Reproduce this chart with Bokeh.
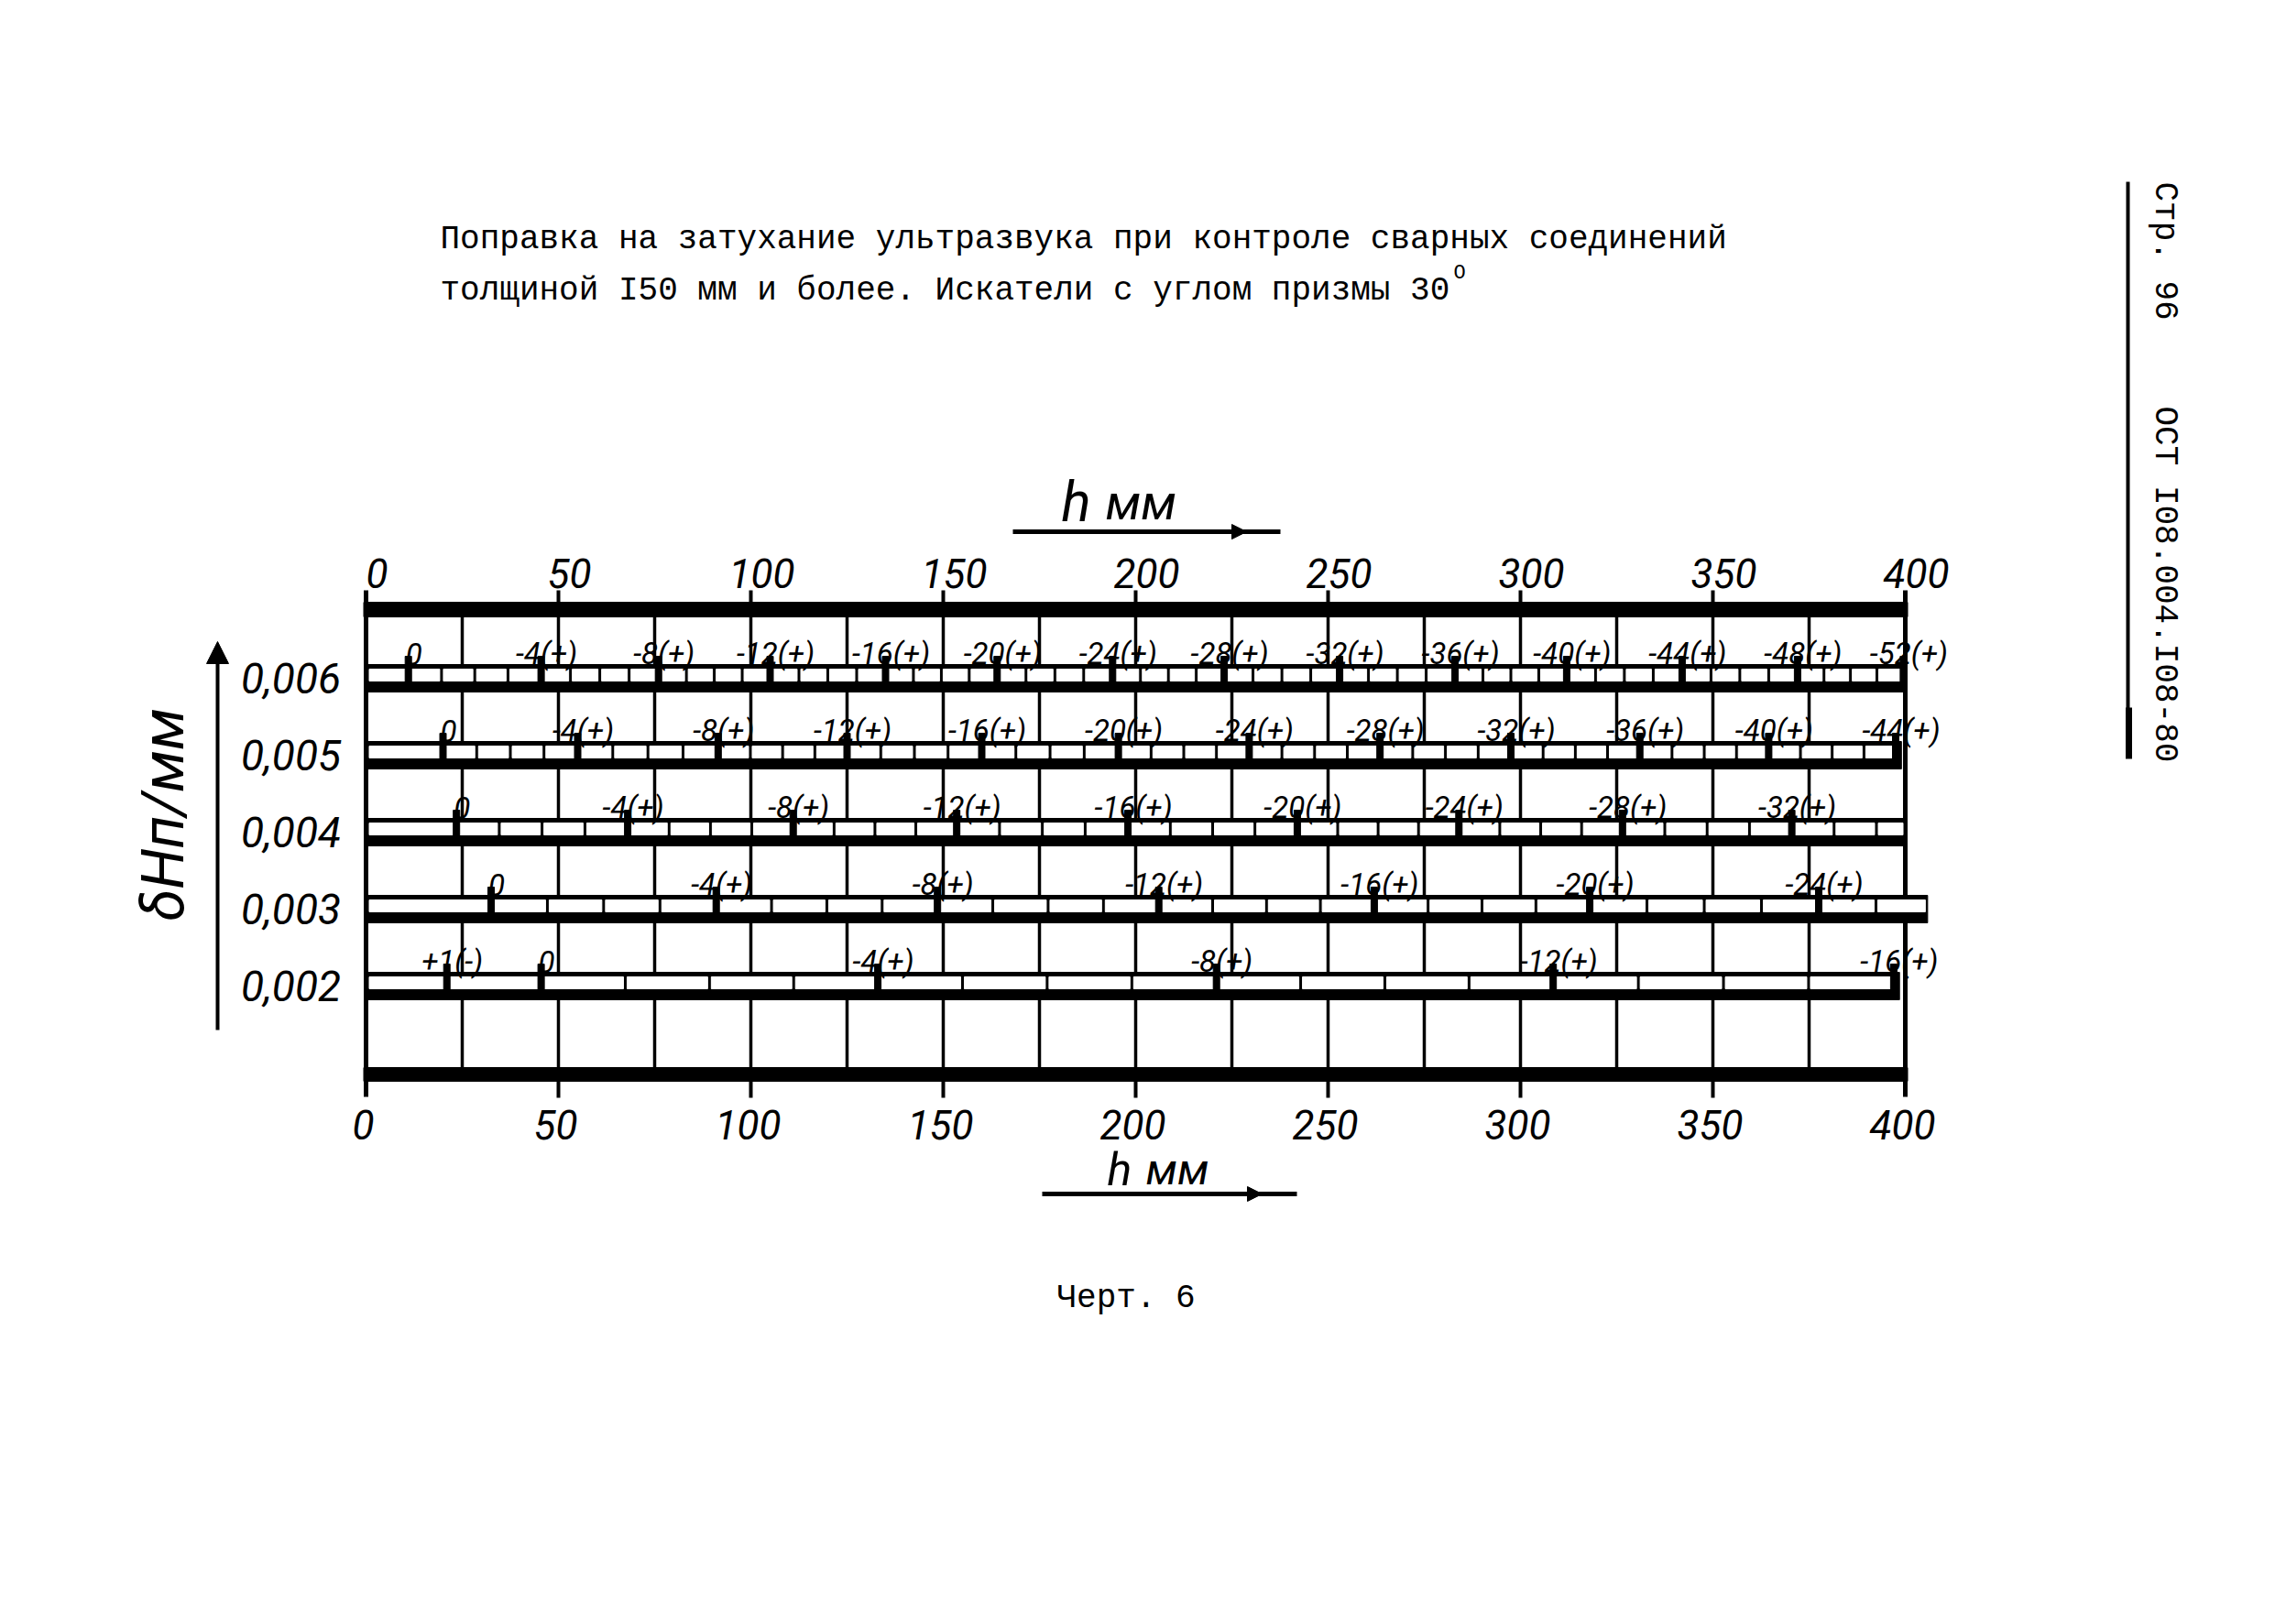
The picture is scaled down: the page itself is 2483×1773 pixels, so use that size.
import math
from bokeh.plotting import figure
from bokeh.models import Range1d, Arrow, NormalHead
from bokeh.embed import file_html
from bokeh.resources import INLINE
from bokeh.core.properties import value

# ---------------- data ----------------
h_ticks = [0, 50, 100, 150, 200, 250, 300, 350, 400]
h_tick_labels = ["0", "50", "100", "150", "200", "250", "300", "350", "400"]
grid_h = [25, 50, 75, 100, 125, 150, 175, 200, 225, 250, 275, 300, 325, 350, 375]

delta_rows = [0.006, 0.005, 0.004, 0.003, 0.002]
delta_labels = ["0,006", "0,005", "0,004", "0,003", "0,002"]

# positions (h, mm) of the correction marks on each row, and their values (dB)
row_006_h = [11, 45.5, 76, 105, 135, 164, 194, 223, 253, 283, 312, 342, 372, 399.5]
row_006_db = [0, -4, -8, -12, -16, -20, -24, -28, -32, -36, -40, -44, -48, -52]
row_005_h = [20, 55, 91.5, 125, 160, 195.5, 229.5, 263.5, 297.5, 331, 364.5, 397.5]
row_005_db = [0, -4, -8, -12, -16, -20, -24, -28, -32, -36, -40, -44]
row_004_h = [23.5, 68, 111, 153.5, 198, 242, 284, 326.5, 370.5]
row_004_db = [0, -4, -8, -12, -16, -20, -24, -28, -32]
row_003_h = [32.5, 91, 148.5, 206, 262, 318, 377.5]
row_003_db = [0, -4, -8, -12, -16, -20, -24]
row_002_h = [21, 45.5, 133, 221, 308.5, 397]
row_002_db = [1, 0, -4, -8, -12, -16]
strip_end_h = [400, 399, 400, 405.8, 398.5]

rows_h = [row_006_h, row_005_h, row_004_h, row_003_h, row_002_h]
rows_db = [row_006_db, row_005_db, row_004_db, row_003_db, row_002_db]

title_1 = "Поправка на затухание ультразвука при контроле сварных соединений"
title_2 = "толщиной I50 мм и более. Искатели с углом призмы 30"
title_sup = "О"
caption = "Черт. 6"
side_1 = "Стр. 96"
side_2 = "ОСТ I08.004.I08-80"
x_title = "h"
x_unit = "мм"
y_title = "δНп/мм"

# ---------------- layout ----------------
W, H = 2467, 1757
X0, PXMM = 407.0, 4.2          # page x of h=0, pixels per mm
YROW, PXD = 748.0, 84000.0     # page y of row 0.006, pixels per unit of delta


def X(px):
    return (px - X0) / PXMM


def Y(py):
    return 0.006 - (py - YROW) / PXD


def dx(px):
    return px / PXMM


def dy(px):
    return px / PXD


x_start = X(8)
y_end = Y(8)
p = figure(width=W, height=H,
           x_range=Range1d(x_start, x_start + W / PXMM),
           y_range=Range1d(y_end - H / PXD, y_end),
           output_backend="svg", toolbar_location=None,
           x_axis_location=None, y_axis_location=None,
           min_border=0)
p.grid.visible = False
p.outline_line_color = None
p.background_fill_color = "white"
p.border_fill_color = "white"

INK = "#000000"
HAND = value("Roboto")
TYPE = value("Liberation Mono")

# thick top / bottom bars
p.quad(left=[-dx(2.5)] * 2, right=[400 + dx(2.5)] * 2,
       top=[Y(665), Y(1173)], bottom=[Y(681), Y(1188)], color=INK)

# frame sides and major ticks
p.segment(x0=[0, 400], y0=[Y(652)] * 2, x1=[0, 400], y1=[Y(1205)] * 2,
          line_width=5, color=INK)
inner = [t for t in h_ticks if 0 < t < 400]
p.segment(x0=inner, y0=[Y(652)] * len(inner), x1=inner, y1=[Y(665)] * len(inner),
          line_width=4, color=INK)
p.segment(x0=inner, y0=[Y(1188)] * len(inner), x1=inner, y1=[Y(1206)] * len(inner),
          line_width=4, color=INK)

# cell grid lines between strips
band_top = [Y(681)] + [c - dy(15) for c in delta_rows]
band_bot = [c + dy(15) for c in delta_rows] + [Y(1173)]
gx0, gy0, gy1 = [], [], []
for t, b in zip(band_top, band_bot):
    for g in grid_h:
        gx0.append(g)
        gy0.append(t)
        gy1.append(b)
p.segment(x0=gx0, y0=gy0, x1=gx0, y1=gy1, line_width=3.5, color=INK)


def divisions(hs, dbs, end):
    divs = []
    for i in range(len(hs) - 1):
        n = abs(dbs[i + 1] - dbs[i])
        for k in range(1, n):
            divs.append(hs[i] + k * (hs[i + 1] - hs[i]) / n)
    n = abs(dbs[-1] - dbs[-2])
    step = (hs[-1] - hs[-2]) / n
    x = hs[-1] + step
    while x < end - 0.5 * step:
        divs.append(x)
        x += step
    return divs


def fmt_db(v):
    if v == 0:
        return "0"
    if v > 0:
        return f"+{v}(-)"
    return f"{v}(+)"


sl, sr, st, sb = [], [], [], []
wl, wr, wt, wb = [], [], [], []
ml, mr, mt, mb = [], [], [], []
lx, ly, lt = [], [], []
for c, hs, dbs, end in zip(delta_rows, rows_h, rows_db, strip_end_h):
    sl.append(0); sr.append(end); st.append(c + dy(15)); sb.append(c - dy(15))
    divs = divisions(hs, dbs, end)
    bounds = [(0.0, dx(3.5))] + [(d, dx(2.0)) for d in divs] + \
             [(h, dx(3.5)) for h in hs] + [(end, dx(2.5))]
    bounds.sort(key=lambda b: b[0])
    for (a, ha), (b, hb) in zip(bounds[:-1], bounds[1:]):
        left, right = a + ha, b - hb
        if right - left > dx(2):
            wl.append(left); wr.append(right); wt.append(c + dy(10)); wb.append(c - dy(3))
    for h, v in zip(hs, dbs):
        ml.append(h - dx(3.5)); mr.append(h + dx(3.5))
        mt.append(c + dy(24)); mb.append(c - dy(4))
        lx.append(h + dx(6)); ly.append(c + dy(27)); lt.append(fmt_db(v))

p.quad(left=sl, right=sr, top=st, bottom=sb, color=INK)
p.quad(left=wl, right=wr, top=wt, bottom=wb, color="white")
p.quad(left=ml, right=mr, top=mt, bottom=mb, color=INK)
p.text(x=lx, y=ly, text=lt, text_font=HAND, text_font_style="italic",
       text_font_size="33px", text_align="center", text_baseline="alphabetic",
       text_color=INK)

# h tick labels, top and bottom
p.text(x=[t + dx(12) for t in h_ticks], y=[Y(633)] * len(h_ticks), text=h_tick_labels,
       text_font=HAND, text_font_style="italic", text_font_size="44px",
       text_align="center", text_baseline="middle", text_color=INK)
p.text(x=[t - dx(3) for t in h_ticks], y=[Y(1235)] * len(h_ticks), text=h_tick_labels,
       text_font=HAND, text_font_style="italic", text_font_size="44px",
       text_align="center", text_baseline="middle", text_color=INK)

# delta row labels
p.text(x=[X(325)] * len(delta_rows), y=delta_rows, text=delta_labels,
       text_font=HAND, text_font_style="italic", text_font_size="46px",
       text_align="center", text_baseline="middle", text_color=INK)

# axis titles with arrows
p.text(x=[X(1166)], y=[Y(556)], text=[x_title],
       text_font=HAND, text_font_style="italic", text_font_size="60px",
       text_align="left", text_baseline="alphabetic", text_color=INK)
p.text(x=[X(1214)], y=[Y(556)], text=[x_unit],
       text_font=HAND, text_font_style="italic", text_font_size="54px",
       text_align="left", text_baseline="alphabetic", text_color=INK)
p.text(x=[X(1216)], y=[Y(1284)], text=[x_title],
       text_font=HAND, text_font_style="italic", text_font_size="50px",
       text_align="left", text_baseline="alphabetic", text_color=INK)
p.text(x=[X(1258)], y=[Y(1284)], text=[x_unit],
       text_font=HAND, text_font_style="italic", text_font_size="48px",
       text_align="left", text_baseline="alphabetic", text_color=INK)
p.segment(x0=[X(1113), X(1145)], y0=[Y(588), Y(1311)],
          x1=[X(1405), X(1423)], y1=[Y(588), Y(1311)], line_width=5, color=INK)
p.add_layout(Arrow(end=NormalHead(size=16, fill_color=INK, line_color=INK),
                   x_start=X(1300), y_start=Y(588), x_end=X(1368), y_end=Y(588),
                   line_width=5, line_color=INK))
p.add_layout(Arrow(end=NormalHead(size=16, fill_color=INK, line_color=INK),
                   x_start=X(1320), y_start=Y(1311), x_end=X(1385), y_end=Y(1311),
                   line_width=5, line_color=INK))
p.add_layout(Arrow(end=NormalHead(size=24, fill_color=INK, line_color=INK),
                   x_start=X(245), y_start=Y(1132), x_end=X(245), y_end=Y(708),
                   line_width=4, line_color=INK))
p.text(x=[X(186)], y=[Y(897)], text=[y_title], angle=math.pi / 2,
       text_font=HAND, text_font_style="italic", text_font_size="64px",
       text_align="center", text_baseline="middle", text_color=INK)

# typewritten texts
p.text(x=[X(488), X(488)], y=[Y(269), Y(325)], text=[title_1, title_2],
       text_font=TYPE, text_font_size="36px", text_align="left",
       text_baseline="alphabetic", text_color=INK)
p.text(x=[X(1594)], y=[Y(306)], text=[title_sup], text_font=TYPE,
       text_font_size="22px", text_align="left", text_baseline="alphabetic",
       text_color=INK)
p.text(x=[X(1161)], y=[Y(1425)], text=[caption], text_font=TYPE,
       text_font_size="36px", text_align="left", text_baseline="alphabetic",
       text_color=INK)
p.text(x=[X(2370), X(2370)], y=[Y(206), Y(451)], text=[side_1, side_2],
       angle=-math.pi / 2, text_font=TYPE, text_font_size="36px",
       text_align="left", text_baseline="middle", text_color=INK)
p.segment(x0=[X(2330)], y0=[Y(206)], x1=[X(2330)], y1=[Y(834)], line_width=4, color=INK)
p.segment(x0=[X(2331)], y0=[Y(780)], x1=[X(2331)], y1=[Y(836)], line_width=7, color=INK)

open("out.html", "w").write(file_html(p, INLINE))
